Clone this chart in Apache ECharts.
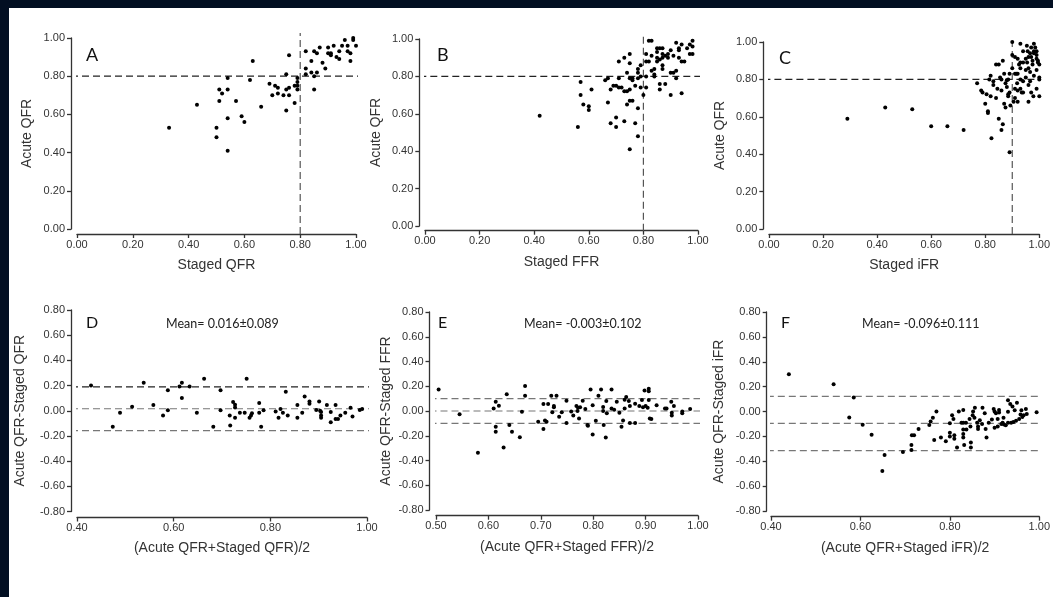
<!DOCTYPE html>
<html><head><meta charset="utf-8">
<script src="https://cdn.jsdelivr.net/npm/echarts@6/dist/echarts.min.js"></script>
<style>
html,body{margin:0;padding:0;background:#020f22;width:1053px;height:597px;overflow:hidden}
#paper{position:absolute;left:9px;top:8px;right:0;bottom:0;background:#fff}
#chart{position:absolute;left:0;top:0;width:1053px;height:597px}
</style></head><body><div id="paper"></div><div id="chart"></div>
<script>
// ---------- DATA ----------
const panelLetters = ['A','B','C','D','E','F'];
const xNames = ['Staged QFR','Staged FFR','Staged iFR','(Acute QFR+Staged QFR)/2','(Acute QFR+Staged FFR)/2','(Acute QFR+Staged iFR)/2'];
const yNames = ['Acute QFR','Acute QFR','Acute QFR','Acute QFR-Staged QFR','Acute QFR-Staged FFR','Acute QFR-Staged iFR'];
const meanTexts = ['Mean= 0.016±0.089','Mean= -0.003±0.102','Mean= -0.096±0.111'];
const acuteCut = 0.8;                 // horizontal cut-off, panels A-C
const stagedCuts = [0.8, 0.8, 0.9];   // vertical cut-offs, panels A-C
const blandLines = [[0.19, 0.016, -0.158], [0.10, 0.00, -0.10], [0.122, -0.096, -0.314]];
const xRanges = [[0,1,0.2],[0,1,0.2],[0,1,0.2],[0.4,1,0.2],[0.5,1,0.1],[0.4,1,0.2]];
const yRanges = [[0,1,0.2],[0,1,0.2],[0,1,0.2],[-0.8,0.8,0.2],[-0.8,0.8,0.2],[-0.8,0.8,0.2]];

const dataA = [
[0.33,0.53],[0.43,0.65],[0.50,0.53],[0.50,0.48],[0.51,0.73],[0.51,0.67],[0.52,0.71],[0.54,0.79],[0.54,0.73],[0.54,0.58],
[0.54,0.41],[0.57,0.67],[0.59,0.59],[0.60,0.56],[0.62,0.78],[0.63,0.88],[0.66,0.64],[0.69,0.76],[0.70,0.70],[0.71,0.75],
[0.72,0.74],[0.72,0.71],[0.74,0.70],[0.75,0.81],[0.75,0.73],[0.75,0.62],[0.76,0.91],[0.76,0.74],[0.76,0.70],[0.78,0.66],
[0.78,0.75],[0.79,0.79],[0.79,0.77],[0.79,0.75],[0.79,0.73],
[0.82,0.93],[0.82,0.84],[0.82,0.81],[0.84,0.88],[0.84,0.82],[0.85,0.93],[0.85,0.80],[0.85,0.73],[0.86,0.92],[0.86,0.82],
[0.87,0.95],[0.88,0.87],[0.89,0.84],[0.90,0.95],[0.90,0.92],[0.91,0.92],[0.91,0.91],[0.92,0.96],[0.93,0.90],[0.94,0.89],
[0.94,0.93],[0.95,0.96],[0.96,0.99],[0.97,0.96],[0.97,0.93],[0.98,0.92],[0.98,0.88],[0.99,1.00],[0.99,0.99],[1.00,0.96]
];
const dataB = [
[0.42,0.59],[0.56,0.53],[0.57,0.77],[0.57,0.70],[0.58,0.65],[0.60,0.64],[0.60,0.62],[0.61,0.73],[0.66,0.78],[0.67,0.79],
[0.67,0.66],[0.68,0.73],[0.68,0.55],[0.69,0.75],[0.70,0.75],[0.70,0.58],[0.70,0.53],[0.71,0.88],[0.71,0.79],[0.71,0.74],
[0.73,0.90],[0.73,0.72],[0.73,0.56],[0.74,0.82],[0.74,0.65],[0.75,0.92],[0.75,0.87],[0.75,0.79],[0.75,0.73],[0.75,0.67],
[0.75,0.41],[0.76,0.79],[0.76,0.67],[0.76,0.78],[0.77,0.75],[0.77,0.55],[0.78,0.84],[0.78,0.82],[0.78,0.79],[0.78,0.63],
[0.78,0.48],[0.79,0.86],[0.79,0.74],[0.80,0.70],[0.81,0.92],[0.81,0.88],[0.81,0.74],[0.82,0.99],[0.83,0.99],[0.83,0.91],
[0.83,0.83],[0.84,0.81],[0.84,0.84],[0.85,0.95],[0.85,0.93],[0.85,0.90],[0.85,0.88],[0.86,0.95],[0.86,0.76],[0.86,0.73],
[0.87,0.95],[0.87,0.92],[0.87,0.90],[0.87,0.86],[0.87,0.84],[0.88,0.91],[0.88,0.76],[0.89,0.92],[0.90,0.94],[0.90,0.82],
[0.90,0.70],[0.91,0.91],[0.92,0.98],[0.92,0.83],[0.92,0.79],[0.93,0.94],[0.93,0.90],[0.94,0.97],[0.94,0.88],[0.94,0.71],
[0.95,0.88],[0.97,0.97],[0.97,0.92],[0.98,0.99],[0.98,0.92],[0.98,0.96],[0.93,0.95],[0.91,0.82],[0.84,0.80],[0.81,0.80],
[0.72,0.74],[0.74,0.72],[0.79,0.80],[0.82,0.88],[0.86,0.89],[0.89,0.90],[0.96,0.95]
];
const dataC = [
[0.29,0.59],[0.43,0.65],[0.53,0.64],[0.60,0.55],[0.66,0.55],[0.72,0.53],[0.77,0.78],[0.785,0.74],[0.79,0.73],[0.80,0.67],
[0.805,0.72],[0.81,0.63],[0.81,0.62],[0.815,0.80],[0.82,0.82],[0.823,0.485],[0.83,0.79],[0.84,0.88],[0.845,0.75],[0.85,0.59],
[0.85,0.88],[0.855,0.81],[0.86,0.80],[0.86,0.53],[0.865,0.90],[0.865,0.56],[0.875,0.78],[0.875,0.65],[0.88,0.795],[0.885,0.72],
[0.885,0.71],[0.885,0.80],[0.89,0.83],[0.89,0.41],[0.893,0.66],[0.90,1.00],[0.90,0.93],[0.905,0.68],[0.91,0.92],[0.91,0.83],
[0.91,0.75],[0.915,0.83],[0.918,0.78],[0.92,0.83],[0.92,0.68],[0.925,0.88],[0.93,0.99],[0.93,0.89],[0.93,0.80],[0.93,0.75],
[0.935,0.73],[0.94,0.89],[0.94,0.73],[0.95,0.81],[0.954,0.98],[0.955,0.89],[0.957,0.95],[0.96,0.86],[0.96,0.68],[0.966,0.94],
[0.966,0.84],[0.966,0.79],[0.97,0.92],[0.97,0.73],[0.975,0.90],[0.975,0.88],[0.978,0.71],[0.98,0.94],[0.98,0.99],[0.99,0.95],
[0.99,0.93],[0.99,0.91],[0.995,0.90],[0.995,0.89],[1.00,0.88],[1.00,0.81],[1.00,0.80],[1.00,0.71],[0.99,0.75],[0.97,0.97],
[0.95,0.91],[0.94,0.95],[0.92,0.91],[0.90,0.86],[0.88,0.76],[0.87,0.83],[0.86,0.74],[0.83,0.77],[0.82,0.71],[0.84,0.70],
[0.87,0.67],[0.89,0.73],[0.91,0.70],[0.92,0.74],[0.94,0.79],[0.96,0.77],[0.98,0.82],[0.99,0.85],[0.95,0.85],[0.93,0.86],
[0.96,0.92],[0.98,0.95],[0.985,0.97]
];
const dataD = [
[0.429,0.20],[0.474,-0.127],[0.489,-0.016],[0.514,0.032],[0.538,0.223],[0.558,0.045],[0.578,-0.037],[0.588,0.162],[0.588,0.003],[0.612,0.193],
[0.617,0.223],[0.617,0.101],[0.633,0.193],[0.648,-0.016],[0.663,0.254],[0.682,-0.127],[0.697,0.162],[0.697,0.003],[0.716,-0.037],[0.717,-0.117],
[0.723,0.069],[0.727,0.048],[0.727,0.026],[0.727,-0.055],[0.737,-0.016],[0.747,-0.016],[0.751,0.254],[0.757,-0.055],[0.760,-0.037],[0.762,-0.02],
[0.777,0.061],[0.777,-0.016],[0.781,-0.127],[0.786,0.003],[0.811,-0.005],[0.817,-0.055],[0.821,0.013],[0.826,-0.016],[0.832,0.151],[0.836,-0.037],
[0.856,0.045],[0.856,-0.055],[0.866,-0.016],[0.871,0.114],[0.881,0.074],[0.881,0.056],[0.895,0.005],[0.901,0.074],[0.903,0.00],[0.905,-0.01],
[0.905,-0.037],[0.905,-0.055],[0.917,0.045],[0.925,-0.01],[0.925,-0.092],[0.935,0.045],[0.935,-0.066],[0.94,-0.066],[0.945,-0.037],[0.955,-0.016],
[0.966,0.024],[0.970,-0.045],[0.985,0.005],[0.99,0.013]
];
const dataE = [
[0.505,0.174],[0.545,-0.027],[0.580,-0.337],[0.610,0.021],[0.614,0.074],[0.614,-0.127],[0.614,-0.168],[0.620,0.042],[0.629,-0.294],[0.635,0.136],
[0.640,-0.114],[0.645,-0.168],[0.660,-0.213],[0.664,-0.006],[0.670,0.203],[0.670,0.123],[0.695,-0.087],[0.705,-0.146],[0.705,0.056],[0.708,-0.076],
[0.711,-0.087],[0.714,0.056],[0.720,0.123],[0.722,-0.01],[0.725,0.04],[0.725,0.03],[0.730,0.123],[0.735,-0.047],[0.740,-0.01],[0.749,0.082],
[0.749,-0.096],[0.758,-0.004],[0.762,-0.036],[0.768,0.040],[0.771,0.027],[0.773,-0.06],[0.780,0.082],[0.785,0.017],[0.789,-0.114],[0.795,0.174],
[0.799,0.047],[0.799,-0.189],[0.805,-0.079],[0.810,0.123],[0.815,0.174],[0.819,0.032],[0.819,0.0],[0.820,-0.114],[0.824,-0.215],[0.825,0.08],
[0.826,-0.018],[0.835,0.174],[0.835,0.021],[0.845,0.074],[0.850,-0.015],[0.854,-0.127],[0.857,-0.076],[0.860,0.02],[0.863,0.114],[0.868,0.08],
[0.870,0.04],[0.870,-0.096],[0.880,-0.096],[0.880,0.058],[0.888,0.040],[0.893,0.088],[0.898,0.166],[0.900,0.04],[0.904,0.027],[0.906,0.18],
[0.906,0.16],[0.906,0.088],[0.908,-0.060],[0.911,-0.065],[0.921,0.047],[0.937,0.021],[0.94,0.021],[0.949,0.075],[0.950,-0.015],[0.950,-0.036],
[0.954,0.04],[0.970,-0.004],[0.970,-0.018],[0.985,0.017],[0.775,0.03],[0.77,0.0],[0.79,-0.12],[0.84,0.01],[0.86,0.09],[0.895,0.03]
];
const dataF = [
[0.440,0.300],[0.540,0.220],[0.585,0.113],[0.575,-0.048],[0.605,-0.107],[0.625,-0.187],[0.654,-0.350],[0.649,-0.479],[0.695,-0.326],[0.714,-0.27],
[0.714,-0.31],[0.715,-0.19],[0.720,-0.19],[0.730,-0.141],[0.754,-0.109],[0.757,-0.08],[0.762,-0.05],[0.770,0.0],[0.765,-0.23],[0.780,-0.21],
[0.791,-0.24],[0.80,-0.095],[0.80,-0.17],[0.80,-0.20],[0.805,-0.03],[0.808,-0.06],[0.81,-0.19],[0.81,-0.22],[0.816,-0.29],[0.820,0.0],
[0.826,-0.09],[0.83,-0.09],[0.83,-0.145],[0.83,-0.18],[0.83,-0.21],[0.830,0.013],[0.832,-0.27],[0.836,-0.09],[0.837,-0.145],[0.844,-0.06],
[0.846,-0.12],[0.847,-0.25],[0.847,-0.29],[0.851,-0.03],[0.852,0.0],[0.855,-0.05],[0.856,0.03],[0.861,-0.09],[0.863,-0.14],[0.863,-0.12],
[0.867,-0.07],[0.872,-0.10],[0.873,0.03],[0.878,-0.015],[0.880,-0.14],[0.882,-0.21],[0.887,-0.09],[0.894,-0.065],[0.898,0.02],[0.90,0.0],
[0.903,-0.015],[0.90,-0.13],[0.907,-0.12],[0.907,-0.06],[0.91,0.013],[0.91,-0.008],[0.915,-0.10],[0.918,-0.09],[0.92,-0.05],[0.921,-0.105],
[0.925,-0.11],[0.93,0.09],[0.93,-0.002],[0.93,-0.09],[0.935,0.06],[0.937,-0.09],[0.942,-0.085],[0.945,0.01],[0.948,-0.075],[0.955,-0.06],
[0.962,-0.045],[0.965,-0.03],[0.958,-0.025],[0.96,0.01],[0.972,-0.02],[0.994,-0.007],[0.95,0.07],[0.94,0.04],[0.97,0.02]
];
const allData = [dataA, dataB, dataC, dataD, dataE, dataF];

// ---------- LAYOUT ----------
const grids = [
  {left:77,  top:38,  width:279, height:191, yOff:6,   xOff:5,   nameGap:37},
  {left:425, top:39,  width:273, height:187, yOff:5.7, xOff:4.7, nameGap:36},
  {left:769, top:42,  width:275, height:187, yOff:5.7, xOff:5,   nameGap:36},
  {left:77,  top:310, width:290, height:201.5, yOff:6, xOff:6,   nameGap:44},
  {left:436, top:312, width:262, height:198, yOff:6.5, xOff:5.7, nameGap:36},
  {left:771, top:312, width:275, height:199, yOff:4.3, xOff:5.7, nameGap:41}
];
const letterPos = [[86,46],[437,46],[779,49],[86,315],[438,315],[781,315]];
const meanPos = [[166,317],[524,317],[862,317]];

const AX = '#333', FONT = 'Liberation Sans';
const dash = [7,4];

function hLine(i, y, color, rightPx) {
  const g = grids[i], [x0,x1] = xRanges[i], per = (x1-x0)/g.width;
  return {type:'line', xAxisIndex:i, yAxisIndex:i, data:[[x0-g.yOff*per,y],[x1+rightPx*per,y]],
    symbol:'none', clip:false, silent:true, animation:false, z:1,
    lineStyle:{color, width:1.2, type:dash}};
}
function vLine(i, x, color, topPx) {
  const g = grids[i], [y0,y1] = yRanges[i], per = (y1-y0)/g.height;
  return {type:'line', xAxisIndex:i, yAxisIndex:i, data:[[x,y0-g.xOff*per],[x,y1+topPx*per]],
    symbol:'none', clip:false, silent:true, animation:false, z:1,
    lineStyle:{color, width:1.2, type:dash}};
}

const option = {
  animation:false,
  grid: grids.map(g => ({left:g.left, top:g.top, width:g.width, height:g.height, containLabel:false})),
  xAxis: grids.map((g,i) => ({
    gridIndex:i, type:'value', min:xRanges[i][0], max:xRanges[i][1], interval:xRanges[i][2],
    offset:g.xOff, name:xNames[i], nameLocation:'middle', nameGap:24,
    nameTextStyle:{fontFamily:FONT, fontSize:14, color:'#333'},
    axisLine:{show:true, onZero:false, lineStyle:{color:AX, width:1.3}},
    axisTick:{show:true, length:4, lineStyle:{color:AX, width:1.3}},
    axisLabel:{fontFamily:FONT, fontSize:11, color:'#333', margin:5, formatter:v=>v.toFixed(2), showMaxLabel:true, showMinLabel:true},
    splitLine:{show:false}
  })),
  yAxis: grids.map((g,i) => ({
    gridIndex:i, type:'value', min:yRanges[i][0], max:yRanges[i][1], interval:yRanges[i][2],
    offset:g.yOff, name:yNames[i], nameLocation:'middle', nameGap:g.nameGap,
    nameTextStyle:{fontFamily:FONT, fontSize:14, color:'#333'},
    axisLine:{show:true, onZero:false, lineStyle:{color:AX, width:1.3}},
    axisTick:{show:true, length:4, lineStyle:{color:AX, width:1.3}},
    axisLabel:{fontFamily:FONT, fontSize:11, color:'#333', margin:6, formatter:v=>v.toFixed(2)},
    splitLine:{show:false}
  })),
  title: [
    ...panelLetters.map((t,i) => ({text:t, left:letterPos[i][0], top:letterPos[i][1], padding:0,
      textStyle:{fontFamily:'Lato', fontWeight:'normal', fontSize:i<3?18:16, color:'#111'}})),
    ...meanTexts.map((t,i) => ({text:t, left:meanPos[i][0], top:meanPos[i][1], padding:0,
      textStyle:{fontFamily:'Lato', fontWeight:'normal', fontSize:12.5, color:'#222'}}))
  ],
  series: []
};

// reference lines
for (let i=0;i<3;i++) {
  option.series.push(hLine(i, acuteCut, '#222', 4));
  option.series.push(vLine(i, stagedCuts[i], '#555', i<2?5:0));
}
const blandColors = [['#222','#777','#777'],['#777','#777','#777'],['#777','#777','#777']];
for (let k=0;k<3;k++) {
  blandLines[k].forEach((y,j) => option.series.push(hLine(3+k, y, blandColors[k][j], 6)));
}
// scatter points
allData.forEach((d,i) => option.series.push({
  type:'scatter', xAxisIndex:i, yAxisIndex:i, data:d, symbolSize:4, z:3,
  itemStyle:{color:'#000', opacity:1}, silent:true
}));

const chart = echarts.init(document.getElementById('chart'), null, {renderer:'canvas'});
chart.setOption(option);
</script></body></html>
